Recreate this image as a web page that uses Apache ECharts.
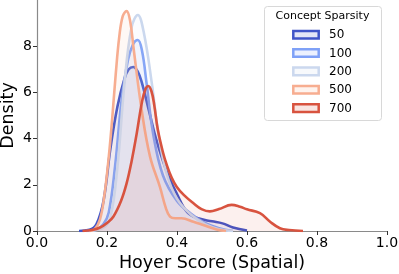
<!DOCTYPE html>
<html>
<head>
<meta charset="utf-8">
<script src="https://cdn.jsdelivr.net/npm/echarts@6/dist/echarts.min.js"></script>
<style>html,body{margin:0;padding:0;background:#fff}#c{width:399px;height:274px}</style>
</head>
<body>
<div id="c"></div>
<script>
// Legend categories
const categories = ['50', '100', '200', '500', '700'];
const legendTitle = 'Concept Sparsity';
const xTicks = [0, 0.2, 0.4, 0.6, 0.8, 1.0];
const yTicks = [0, 2, 4, 6, 8];

// KDE curves (x = Hoyer score, y = density)
const x50 = [0.12, 0.15, 0.17, 0.19, 0.21, 0.23, 0.25, 0.262, 0.275, 0.288, 0.30, 0.32, 0.34, 0.37, 0.40, 0.43, 0.46, 0.50, 0.53, 0.56, 0.60];
const y50 = [0, 0.05, 0.3, 1.3, 3.6, 5.4, 6.6, 7.0, 7.1, 6.9, 6.4, 5.2, 4.0, 2.6, 1.6, 0.8, 0.55, 0.42, 0.33, 0.15, 0.02];

const x100 = [0.14, 0.17, 0.19, 0.205, 0.223, 0.242, 0.26, 0.275, 0.288, 0.30, 0.313, 0.332, 0.36, 0.40, 0.44, 0.48, 0.52, 0.56];
const y100 = [0, 0.05, 0.3, 0.8, 2.8, 5.7, 7.4, 8.1, 8.27, 7.8, 6.4, 4.2, 2.4, 1.3, 0.75, 0.35, 0.12, 0];

const x200 = [0.15, 0.19, 0.21, 0.23, 0.25, 0.27, 0.288, 0.305, 0.328, 0.347, 0.37, 0.40, 0.44, 0.48, 0.52, 0.56];
const y200 = [0, 0.15, 0.6, 2.8, 6.4, 8.8, 9.35, 8.6, 6.4, 4.2, 2.5, 1.4, 0.7, 0.3, 0.08, 0];

const x500 = [0.15, 0.165, 0.18, 0.193, 0.205, 0.215, 0.225, 0.235, 0.245, 0.256, 0.266, 0.276, 0.299, 0.323, 0.351, 0.368, 0.38, 0.395, 0.413, 0.447, 0.475, 0.513, 0.54];
const y500 = [0, 0.08, 0.5, 1.6, 3.2, 4.9, 6.8, 8.4, 9.3, 9.52, 9.1, 7.9, 5.24, 3.22, 1.92, 1.0, 0.62, 0.55, 0.55, 0.4, 0.26, 0.07, 0];

const x700 = [0.13, 0.16, 0.18, 0.20, 0.218, 0.24, 0.256, 0.27, 0.285, 0.30, 0.31, 0.318, 0.327, 0.335, 0.345, 0.36, 0.371, 0.385, 0.399, 0.42, 0.447, 0.47, 0.494, 0.52, 0.556, 0.58, 0.60, 0.637, 0.666, 0.694, 0.72, 0.76];
const y700 = [0, 0.05, 0.15, 0.35, 0.62, 1.3, 2.06, 3.0, 4.23, 5.6, 6.15, 6.28, 6.05, 5.45, 4.4, 3.4, 2.85, 2.3, 1.92, 1.55, 1.2, 0.95, 0.85, 0.95, 1.13, 1.05, 0.94, 0.77, 0.4, 0.12, 0.04, 0];

const xs = [x50, x100, x200, x500, x700];
const ys = [y50, y100, y200, y500, y700];
const colors = ['#4055c8', '#7fa1f7', '#cbd8ee', '#f7ad90', '#d8533f'];
const fills = ['rgba(64,85,200,0.12)', 'rgba(127,161,247,0.12)', 'rgba(203,216,238,0.12)', 'rgba(247,173,144,0.12)', 'rgba(216,83,63,0.12)'];

const chart = echarts.init(document.getElementById('c'), null, {renderer: 'canvas'});
const font = 'DejaVu Sans';

const series = categories.map((c, i) => ({
  name: c,
  type: 'line',
  smooth: 0.4,
  showSymbol: false,
  symbol: 'none',
  data: xs[i].map((x, k) => [x, ys[i][k]]),
  lineStyle: {color: colors[i], width: 2.6},
  areaStyle: {color: fills[i], origin: 'start'},
  z: 2 + i
}));

const graphics = [
  {type: 'rect', left: 264, top: 6, shape: {width: 117, height: 114, r: 3}, style: {fill: '#fff', stroke: '#d8d8d8', lineWidth: 1}, z: 100},
  {type: 'text', x: 322.5, y: 16, style: {text: legendTitle, font: '11px "DejaVu Sans"', fill: '#000', align: 'center', verticalAlign: 'middle'}, z: 101}
];
categories.forEach((c, i) => {
  const cy = 34.7 + i * 18.35;
  graphics.push({type: 'rect', x: 293.3, y: cy - 3.8, shape: {width: 25.4, height: 7.6}, style: {fill: fills[i].replace('0.12', '0.15'), stroke: colors[i], lineWidth: 2.5}, z: 101});
  graphics.push({type: 'text', x: 329, y: cy + 0.5, style: {text: c, font: '12px "DejaVu Sans"', fill: '#000', align: 'left', verticalAlign: 'middle'}, z: 101});
});

chart.setOption({
  animation: false,
  backgroundColor: '#fff',
  grid: {left: 37, right: 12, top: 0, bottom: 43, containLabel: false, outerBoundsMode: 'none'},
  xAxis: {
    type: 'value', min: 0, max: 1, interval: 0.2,
    name: 'Hoyer Score (Spatial)', nameLocation: 'middle', nameGap: 23,
    nameTextStyle: {fontFamily: font, fontSize: 17.5, color: '#000'},
    axisLine: {show: true, lineStyle: {color: '#8a8a8a', width: 1.2}},
    axisTick: {show: true, length: 4, lineStyle: {color: '#333', width: 1}},
    axisLabel: {fontFamily: font, fontSize: 14, color: '#000', margin: 5,
      formatter: v => xTicks.some(t => Math.abs(t - v) < 1e-9) ? v.toFixed(1) : ''},
    splitLine: {show: false}
  },
  yAxis: {
    type: 'value', min: 0, max: 10, interval: 2,
    name: 'Density', nameLocation: 'middle', nameGap: 20, nameMoveOverlap: false,
    nameTextStyle: {fontFamily: font, fontSize: 17.5, color: '#000'},
    axisLine: {show: true, lineStyle: {color: '#8a8a8a', width: 1.2}},
    axisTick: {show: true, length: 4, lineStyle: {color: '#333', width: 1}, customValues: yTicks},
    axisLabel: {fontFamily: font, fontSize: 14, color: '#000', margin: 5, customValues: yTicks,
      formatter: v => yTicks.includes(v) ? String(v) : ''},
    splitLine: {show: false}
  },
  series: series,
  graphic: graphics
});
</script>
</body>
</html>
